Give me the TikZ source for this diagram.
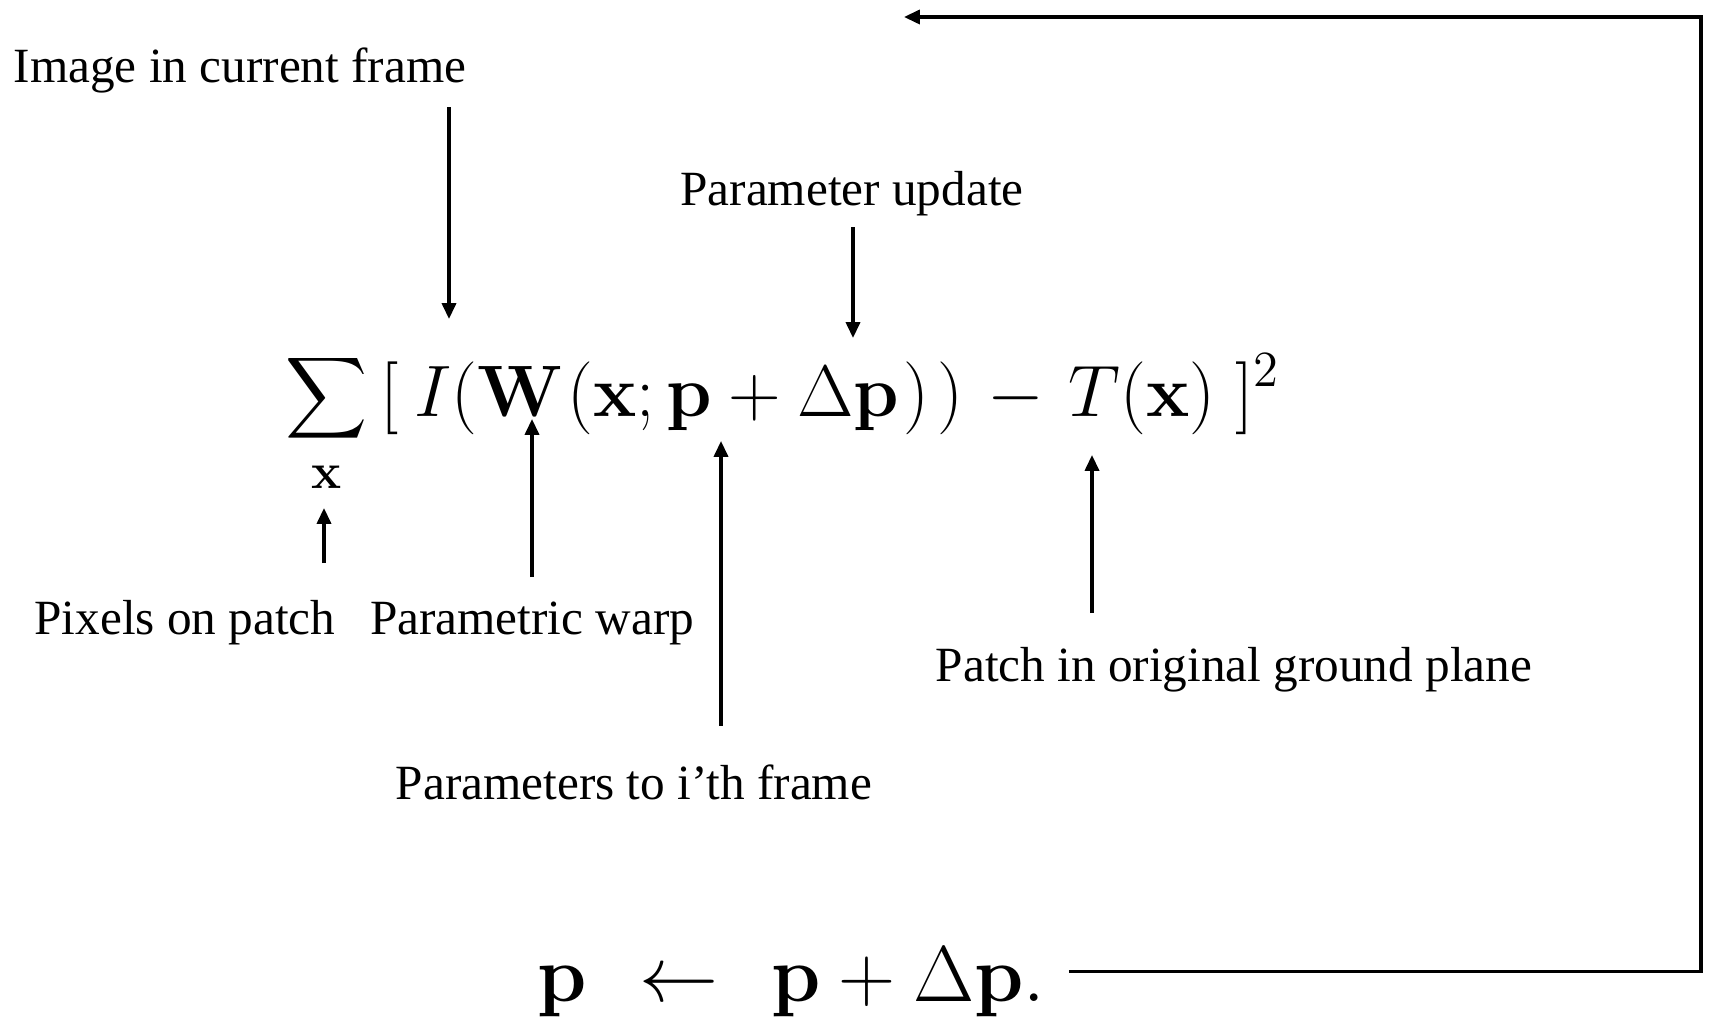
\RequirePackage{fix-cm}
\documentclass[tikz,border=0pt]{standalone}
\usepackage{amsmath,amssymb,graphicx}
\usepackage[no-math]{fontspec}
\setmainfont{Liberation Serif}
\usetikzlibrary{arrows.meta,positioning}
\newcommand{\smallsum}{\mathop{\vcenter{\hbox{\scalebox{0.78}{$\displaystyle\sum$}}}}\limits}

\begin{document}
\begin{tikzpicture}[
  x=0.01cm,y=-0.01cm,
  lbl/.style={font=\fontsize{14}{17}\selectfont,inner sep=0pt,anchor=base},
  eqn/.style={font=\fontsize{20.74}{25}\selectfont,inner sep=0pt,anchor=base west},
  arr/.style={-{Triangle[length=4.5pt,width=4pt]},line width=0.9pt}
]
  \useasboundingbox (0,0) rectangle (1712,1019);
  % cost function and update rule
  \node[eqn] (cost) at (285,417)
    {$\displaystyle\smallsum_{\mathbf{x}}\,[\mkern4mu I(\mathbf{W}\mkern1mu(\mathbf{x};\mathbf{p}+\Delta\mathbf{p}\mkern1mu)\mkern2mu)\mkern2mu-\mkern2mu T(\mathbf{x})\mkern5mu]^2$};
  \node[eqn,font=\fontsize{22.5}{27}\selectfont] (rule) at (537,1001)
    {$\mathbf{p}\mkern7mu\leftarrow\mkern7mu\mathbf{p}+\Delta\mathbf{p}.$};
  % points on the formula
  \coordinate (cSum) at (324,508);
  \coordinate (cI)   at (449,319);
  \coordinate (cW)   at (532,419);
  \coordinate (cP)   at (721,441);
  \coordinate (cDp)  at (853,338);
  \coordinate (cT)   at (1092,455);
  % labels
  \node[lbl] (img)   at (240,83)   {Image in current frame};
  \node[lbl] (upd)   at (852,206)  {Parameter update};
  \node[lbl] (pix)   at (185,635)  {Pixels on patch};
  \node[lbl] (warp)  at (532,635)  {Parametric warp};
  \node[lbl] (param) at (634,800)  {Parameters to i’th frame};
  \node[lbl] (patch) at (1234,682) {Patch in original ground plane};
  % arrows
  \draw[arr,shorten <=3.7pt]  (img.south -| cI) -- (cI);
  \draw[arr,shorten <=2.8pt]  (upd.south -| cDp) -- (cDp);
  \draw[arr,shorten <=10.5pt] (pix.north -| cSum) -- (cSum);
  \draw[arr,shorten <=7pt]    (warp.north -| cW) -- (cW);
  \draw[arr,shorten <=11pt]   (param.north -| cP) -- (cP);
  \draw[arr,shorten <=9.7pt]  (patch.north -| cT) -- (cT);
  % feedback loop
  \coordinate (cornerT) at (1701,17);
  \coordinate (loopEnd) at (904,17);
  \draw[arr] ([xshift=6.5pt,yshift=2.8pt]rule.east) -| (cornerT) -- (loopEnd);
\end{tikzpicture}
\end{document}
